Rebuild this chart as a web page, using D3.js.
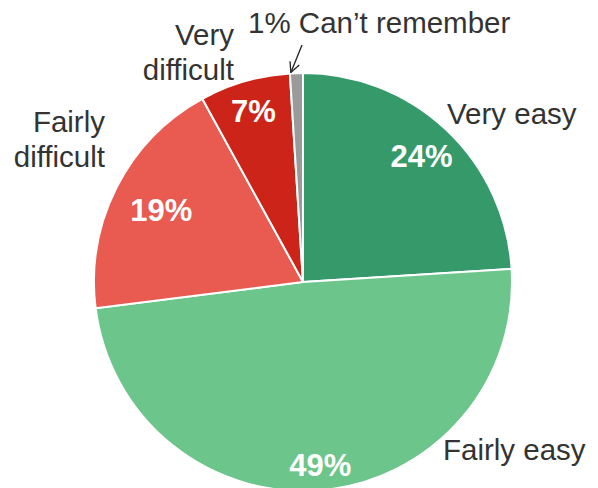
<!DOCTYPE html>
<html>
<head>
<meta charset="utf-8">
<script src="https://cdn.jsdelivr.net/npm/d3@7"></script>
<style>
html,body{margin:0;padding:0;background:#fff;}
svg{display:block;}
</style>
</head>
<body>
<svg id="chart" width="598" height="488"></svg>
<script>
const categories = ["Very easy", "Fairly easy", "Fairly difficult", "Very difficult", "Can\u2019t remember"];
const values = [24, 49, 19, 7, 1];
const colors = ["#35996a", "#6cc58a", "#e95a51", "#cc2418", "#9a9a9a"];
const pctLabels = ["24%", "49%", "19%", "7%", ""];

const svg = d3.select("#chart");
const cx = 303, cy = 282, R = 209;
const g = svg.append("g").attr("transform", `translate(${cx},${cy})`);

const pie = d3.pie().sort(null).value(d => d.v);
const data = pie(categories.map((c, i) => ({c, v: values[i], i})));
const arc = d3.arc().innerRadius(0).outerRadius(R);

g.selectAll("path.slice").data(data).join("path")
  .attr("class", "slice")
  .attr("d", arc)
  .attr("fill", d => colors[d.data.i])
  .attr("stroke", "#fff")
  .attr("stroke-width", 2)
  .attr("stroke-linejoin", "miter");

// percentage labels inside slices
const lblR = [173, 184, 159, 178, 0];
g.selectAll("text.pct").data(data.filter(d => pctLabels[d.data.i]))
  .join("text")
  .attr("class", "pct")
  .attr("transform", d => {
    const a = d3.arc().innerRadius(lblR[d.data.i]).outerRadius(lblR[d.data.i]);
    const [x, y] = a.centroid(d);
    return `translate(${x},${y})`;
  })
  .attr("text-anchor", "middle")
  .attr("dy", "0.36em")
  .attr("fill", "#fff")
  .style("font-family", "'Liberation Sans', Arial, sans-serif")
  .style("font-weight", "bold")
  .style("font-size", "31px")
  .text(d => pctLabels[d.data.i]);

// category labels outside
const font = "'Liberation Sans', Arial, sans-serif";
const textColor = "#333333";
function label(lines, x, y, anchor) {
  const t = svg.append("text")
    .attr("x", x).attr("y", y)
    .attr("text-anchor", anchor)
    .attr("fill", textColor)
    .style("font-family", font)
    .style("font-size", "29.5px");
  lines.forEach((l, k) => {
    t.append("tspan").attr("x", x).attr("dy", k === 0 ? 0 : 34.5).text(l);
  });
}
label(["Very easy"], 447, 124, "start");
label(["Fairly easy"], 443, 460, "start");
label(["Fairly", "difficult"], 105, 132, "end");
label(["Very", "difficult"], 234, 45, "end");
label(["1% " + categories[4]], 248, 33, "start");

// arrow to the small slice
const last = data[4];
const tipAngle = last.startAngle;
const tip = [cx + R * Math.sin(tipAngle), cy - R * Math.cos(tipAngle)];
const start = [302, 45];
svg.append("defs").append("marker")
  .attr("id", "arr").attr("viewBox", "0 0 12 12")
  .attr("refX", 11).attr("refY", 6)
  .attr("markerWidth", 12).attr("markerHeight", 12)
  .attr("markerUnits", "userSpaceOnUse")
  .attr("orient", "auto")
  .append("path").attr("d", "M1,1 L11,6 L1,11")
  .attr("fill", "none").attr("stroke", "#222").attr("stroke-width", 1.3);
svg.append("line")
  .attr("x1", start[0]).attr("y1", start[1])
  .attr("x2", tip[0] + 1).attr("y2", tip[1] - 1)
  .attr("stroke", "#222").attr("stroke-width", 1.3)
  .attr("marker-end", "url(#arr)");
</script>
</body>
</html>
